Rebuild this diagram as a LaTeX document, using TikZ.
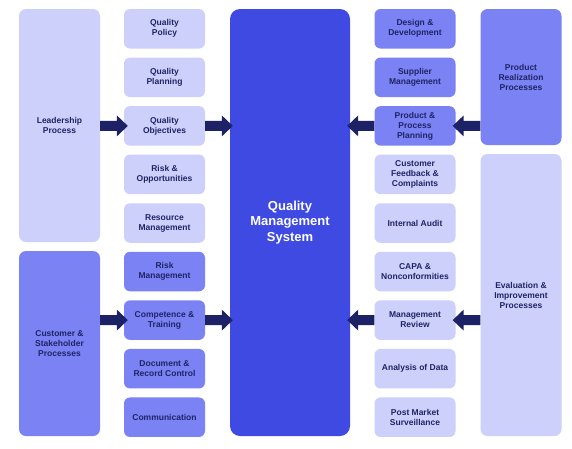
\documentclass[tikz,border=0pt]{standalone}
\usepackage{fontspec}
\setmainfont{Liberation Sans}
\usetikzlibrary{calc}
\definecolor{lightc}{RGB}{205,208,250}
\definecolor{medc}{RGB}{123,130,243}
\definecolor{corec}{RGB}{62,74,226}
\definecolor{navyc}{RGB}{29,33,102}
\definecolor{txtc}{RGB}{31,36,102}
\tikzset{
  base/.style={draw=none, inner sep=2pt, align=center, text=txtc,
    font=\bfseries\fontsize{8.5}{10}\selectfont},
  cell/.style={base, rounded corners=6pt, minimum width=81pt, minimum height=39.5pt},
  bigbox/.style={base, rounded corners=7pt, minimum width=81pt},
  lightbox/.style={fill=lightc},
  medbox/.style={fill=medc},
  corebox/.style={draw=none, fill=corec, rounded corners=10pt, text=white, align=center,
    minimum width=120pt, minimum height=427pt,
    font=\bfseries\fontsize{13}{15.5}\selectfont},
}
\newcommand{\blockarrow}[2]{%
  \fill[navyc] let \p1=(#1), \p2=(#2), \p3=($(\p2)!11pt!(\p1)$) in
  (\x1,\y1+5pt) -- (\x3,\y1+5pt) -- (\x3,\y1+10.5pt)
  -- (\x2,\y1) -- (\x3,\y1-10.5pt) -- (\x3,\y1-5pt)
  -- (\x1,\y1-5pt) -- cycle;}
\begin{document}
\begin{tikzpicture}[x=1pt,y=-1pt]
\fill[white] (0,0) rectangle (572,448);
\useasboundingbox (0,0) rectangle (572,448);
% big side boxes
\node[bigbox, lightbox, minimum height=233pt] (lead) at (59.5,125.5) {Leadership\\Process};
\node[bigbox, medbox, minimum height=185pt] (cust) at (59.5,343.5) {Customer \&\\Stakeholder\\Processes};
\node[bigbox, medbox, minimum height=136pt] (prod) at (521,77) {Product\\Realization\\Processes};
\node[bigbox, lightbox, minimum height=282pt] (eval) at (521,295) {Evaluation \&\\Improvement\\Processes};
% centre
\node[corebox] (qms) at (290,222.5) {Quality\\Management\\System};
% left column
\node[cell, lightbox] (qpol) at (164.5,28.75) {Quality\\Policy};
\node[cell, lightbox] (qpla) at (164.5,77.3) {Quality\\Planning};
\node[cell, lightbox] (qobj) at (164.5,125.9) {Quality\\Objectives};
\node[cell, lightbox] (risk) at (164.5,174.4) {Risk \&\\Opportunities};
\node[cell, lightbox] (reso) at (164.5,223.0) {Resource\\Management};
\node[cell, medbox] (rman) at (164.5,271.5) {Risk\\Management};
\node[cell, medbox] (comp) at (164.5,320.1) {Competence \&\\Training};
\node[cell, medbox] (docu) at (164.5,368.7) {Document \&\\Record Control};
\node[cell, medbox] (comm) at (164.5,417.2) {Communication};
% right column
\node[cell, medbox] (desi) at (415,28.75) {Design \&\\Development};
\node[cell, medbox] (supp) at (415,77.3) {Supplier\\Management};
\node[cell, medbox] (ppp) at (415,125.9) {Product \&\\Process\\Planning};
\node[cell, lightbox] (cfc) at (415,174.4) {Customer\\Feedback \&\\Complaints};
\node[cell, lightbox] (iaud) at (415,223.0) {Internal Audit};
\node[cell, lightbox] (capa) at (415,271.5) {CAPA \&\\Nonconformities};
\node[cell, lightbox] (mrev) at (415,320.1) {Management\\Review};
\node[cell, lightbox] (anal) at (415,368.7) {Analysis of Data};
\node[cell, lightbox] (pms) at (415,417.2) {Post Market\\Surveillance};
% arrows
\blockarrow{lead.east |- qobj}{$(qobj.west)+(4,0)$}
\blockarrow{qobj.east}{$(qms.west |- qobj)+(3,0)$}
\blockarrow{cust.east |- comp}{$(comp.west)+(4,0)$}
\blockarrow{comp.east}{$(qms.west |- comp)+(3,0)$}
\blockarrow{prod.west |- ppp}{$(ppp.east)+(-3,0)$}
\blockarrow{ppp.west}{$(qms.east |- ppp)+(-3,0)$}
\blockarrow{eval.west |- mrev}{$(mrev.east)+(-3,0)$}
\blockarrow{mrev.west}{$(qms.east |- mrev)+(-3,0)$}
\end{tikzpicture}
\end{document}
